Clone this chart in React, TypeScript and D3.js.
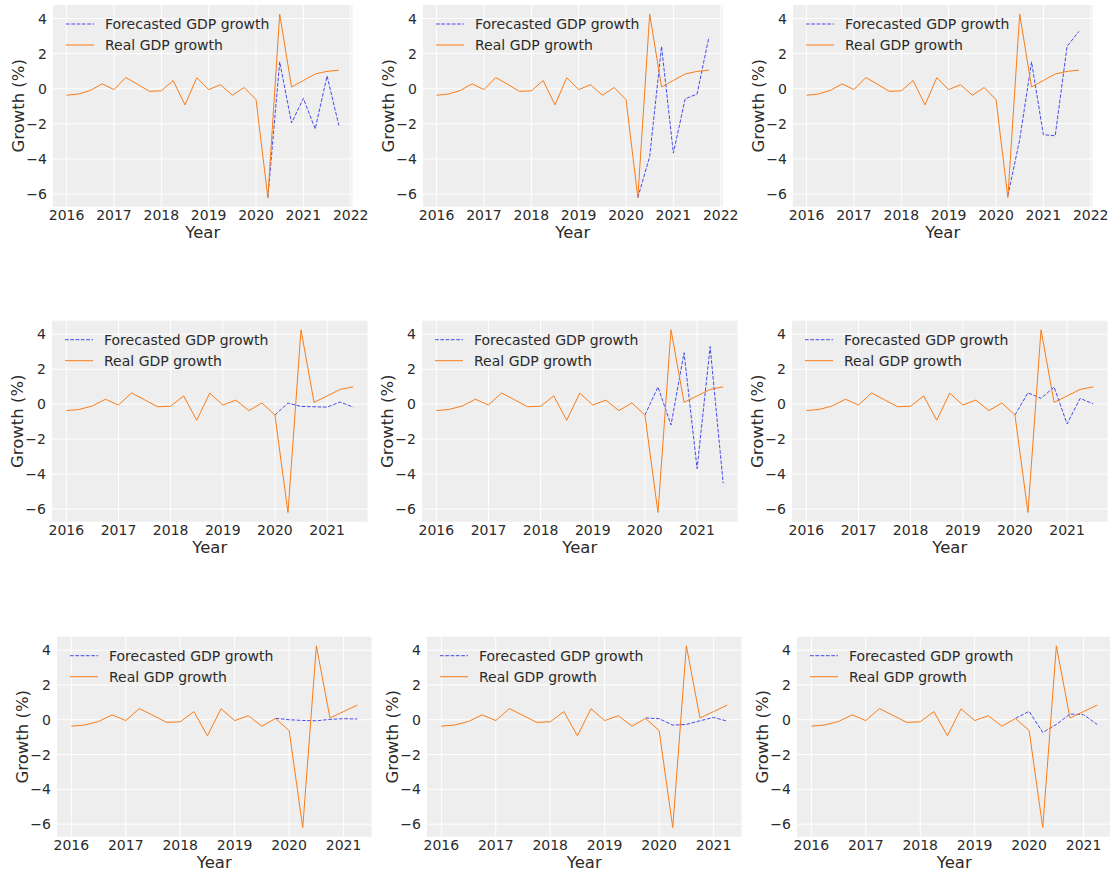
import React from "react";
import * as d3 from "d3";

// Quarterly real GDP growth (%) from 2016 Q1
const realGrowth = [
  -0.37, -0.3, -0.1, 0.28, -0.05, 0.64, 0.25, -0.15,
  -0.12, 0.47, -0.92, 0.63, -0.05, 0.23, -0.37, 0.07,
  -0.62, -6.2, 4.25, 0.1, 0.47, 0.84, 0.99, 1.06,
];
const startYear = 2016;

// Forecast series values (quarterly, from each row's start quarter)
const forecast1 = [-6.2, 1.53, -1.95, -0.55, -2.29, 0.73, -2.1];
const forecast2 = [-6.2, -3.86, 2.41, -3.67, -0.57, -0.31, 2.93];
const forecast3 = [-6.1, -2.9, 1.53, -2.62, -2.68, 2.41, 3.27];
const forecast4 = [-0.62, 0.06, -0.13, -0.15, -0.17, 0.12, -0.17];
const forecast5 = [-0.62, 0.98, -1.19, 2.94, -3.69, 3.29, -4.52];
const forecast6 = [-0.62, 0.65, 0.33, 0.98, -1.13, 0.33, 0.02];
const forecast7 = [0.08, 0.0, -0.04, -0.06, 0.02, 0.06, 0.04];
const forecast8 = [0.1, 0.06, -0.31, -0.27, -0.06, 0.13, -0.08];
const forecast9 = [0.08, 0.48, -0.73, -0.27, 0.33, 0.29, -0.27];

const forecasts = [forecast1, forecast2, forecast3, forecast4, forecast5, forecast6, forecast7, forecast8, forecast9];
// Forecast start quarter index per row, and number of real quarters per row
const rowForecastStart = [17, 16, 15];
const rowRealCount = [24, 23, 22];

const yTicks = [-6, -4, -2, 0, 2, 4];
const legendLabels = ["Forecasted GDP growth", "Real GDP growth"];
const xLabel = "Year";
const yLabel = "Growth (%)";

// layout per row
const rowLayout = [
  { lefts: [53, 423, 793], width: 299.5, top: 5, bottom: 206.7 },
  { lefts: [52, 422, 792], width: 315.5, top: 320.7, bottom: 521.7 },
  { lefts: [57, 427, 797], width: 314.5, top: 636.7, bottom: 836.7 },
];

const ORANGE = "#fa7c17";
const BLUE = "#2a2eec";
const TEXT = "#2b2b2b";
const FONT = "DejaVu Sans, sans-serif";
const TICK_FS = 14;
const LABEL_FS = 16.5;

function Panel({ row, col }: { row: number; col: number }) {
  const lay = rowLayout[row];
  const left = lay.lefts[col];
  const right = left + lay.width;
  const n = rowRealCount[row];
  const real = realGrowth.slice(0, n).map((v, i) => ({ x: startYear + i / 4, y: v }));
  const fStart = rowForecastStart[row];
  const fc = forecasts[row * 3 + col].map((v, i) => ({ x: startYear + (fStart + i) / 4, y: v }));

  const xMin = startYear;
  const xMax = startYear + (n - 1) / 4;
  const xm = (xMax - xMin) * 0.05;
  const all = real.concat(fc).map((d) => d.y);
  const yMin = d3.min(all)!;
  const yMax = d3.max(all)!;
  const ym = (yMax - yMin) * 0.05;

  const x = d3.scaleLinear().domain([xMin - xm, xMax + xm]).range([left, right]);
  const y = d3.scaleLinear().domain([yMin - ym, yMax + ym]).range([lay.bottom, lay.top]);

  const line = d3
    .line<{ x: number; y: number }>()
    .x((d) => x(d.x))
    .y((d) => y(d.y));

  const xTicks = d3.range(Math.ceil(xMin - xm), Math.floor(xMax + xm) + 1);

  const legY = lay.top + 19;
  const legX = left + 13;

  return (
    <g>
      <rect x={left} y={lay.top} width={right - left} height={lay.bottom - lay.top} fill="#eeeeee" />
      {xTicks.map((t) => (
        <line key={"gx" + t} x1={x(t)} x2={x(t)} y1={lay.top} y2={lay.bottom} stroke="#ffffff" strokeWidth={1} />
      ))}
      {yTicks.map((t) => (
        <line key={"gy" + t} x1={left} x2={right} y1={y(t)} y2={y(t)} stroke="#ffffff" strokeWidth={1} />
      ))}
      {xTicks.map((t) => (
        <text key={"tx" + t} x={x(t)} y={lay.bottom + 8} textAnchor="middle" dominantBaseline="central" fontSize={TICK_FS} fill={TEXT} fontFamily={FONT}>
          {t}
        </text>
      ))}
      {yTicks.map((t) => (
        <text key={"ty" + t} x={left - 6} y={y(t)} textAnchor="end" dominantBaseline="central" fontSize={TICK_FS} fill={TEXT} fontFamily={FONT}>
          {t < 0 ? "\u2212" + Math.abs(t) : String(t)}
        </text>
      ))}
      <text x={(left + right) / 2} y={lay.bottom + 25.5} textAnchor="middle" dominantBaseline="central" fontSize={LABEL_FS} fill={TEXT} fontFamily={FONT}>
        {xLabel}
      </text>
      <text
        transform={`translate(${left - 35},${(lay.top + lay.bottom) / 2}) rotate(-90)`}
        textAnchor="middle"
        dominantBaseline="central"
        fontSize={LABEL_FS}
        fill={TEXT}
        fontFamily={FONT}
      >
        {yLabel}
      </text>
      <path d={line(fc) || ""} fill="none" stroke={BLUE} strokeOpacity={0.85} strokeWidth={1} strokeDasharray="3.7,1.6" />
      <path d={line(real) || ""} fill="none" stroke={ORANGE} strokeWidth={1} />
      {/* legend */}
      <line x1={legX} x2={legX + 28} y1={legY} y2={legY} stroke={BLUE} strokeOpacity={0.85} strokeWidth={1} strokeDasharray="3.7,1.6" />
      <text x={legX + 39} y={legY} dominantBaseline="central" fontSize={TICK_FS} fill={TEXT} fontFamily={FONT}>
        {legendLabels[0]}
      </text>
      <line x1={legX} x2={legX + 28} y1={legY + 21} y2={legY + 21} stroke={ORANGE} strokeWidth={1} />
      <text x={legX + 39} y={legY + 21} dominantBaseline="central" fontSize={TICK_FS} fill={TEXT} fontFamily={FONT}>
        {legendLabels[1]}
      </text>
    </g>
  );
}

export default function App() {
  const cells: { row: number; col: number }[] = [];
  for (let r = 0; r < 3; r++) for (let c = 0; c < 3; c++) cells.push({ row: r, col: c });
  return (
    <svg
      width={1110}
      height={875}
      style={{ position: "absolute", left: 0, top: 0, background: "#ffffff" }}
    >
      <rect x={0} y={0} width={1110} height={875} fill="#ffffff" />
      {cells.map((c) => (
        <Panel key={c.row + "-" + c.col} row={c.row} col={c.col} />
      ))}
    </svg>
  );
}
